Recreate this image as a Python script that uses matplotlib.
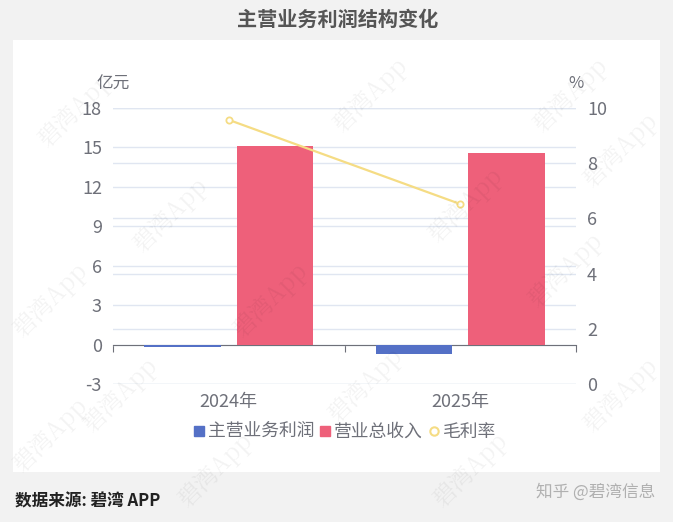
import numpy as np
import matplotlib
matplotlib.use("Agg")
import matplotlib.pyplot as plt
from matplotlib.patches import Rectangle
from matplotlib.lines import Line2D

plt.rcParams['font.family'] = ['Noto Sans CJK SC', 'DejaVu Sans']

# data
years = ["2024年", "2025年"]
profit = [-0.15, -0.68]        # 主营业务利润, 亿元
revenue = [15.1, 14.6]         # 营业总收入, 亿元
margin = [9.57, 6.52]          # 毛利率, %
left_ticks = [-3, 0, 3, 6, 9, 12, 15, 18]
right_ticks = [0, 2, 4, 6, 8, 10]

blue = "#5470c6"
red = "#ee607a"
yellow = "#f5dc84"
grid_c = "#e0e6f1"
txt_c = "#6e7079"

W, H = 673, 522
fig = plt.figure(figsize=(W / 100, H / 100), dpi=100)
fig.patch.set_facecolor("#f2f2f2")

# white panel behind the chart
fig.patches.append(Rectangle((13 / W, 1 - 472 / H), 647 / W, 432 / H,
                             transform=fig.transFigure, facecolor="white",
                             edgecolor="none", zorder=0))

# watermarks
wm = [(75, 110), (370, 95), (570, 95), (170, 215), (465, 205), (620, 150),
      (50, 300), (270, 300), (565, 270), (120, 395), (365, 385), (620, 395),
      (50, 435), (215, 470), (470, 470)]
for x, y in wm:
    fig.text(x / W, 1 - y / H, "碧湾App", rotation=45, fontsize=17,
             color="#000000", alpha=0.05, ha="center", va="center",
             family=["Noto Serif CJK SC", "Noto Sans CJK SC"], zorder=50)

ax_pos = [113 / W, 1 - 384 / H, (576 - 113) / W, (384 - 108) / H]
axr = fig.add_axes(ax_pos)
ax = fig.add_axes(ax_pos, sharex=axr)
axl = fig.add_axes(ax_pos, sharex=axr)
for a in (axr, ax, axl):
    a.patch.set_visible(False)
    for s in a.spines.values():
        s.set_visible(False)
axr.set_zorder(1)
ax.set_zorder(2)
axl.set_zorder(3)

x = np.arange(len(years))
w = 0.33
ax.bar(x - 0.2, profit, w, color=blue, zorder=3)
ax.bar(x + 0.2, revenue, w, color=red, zorder=3)
ax.set_ylim(-3, 18)
ax.set_xlim(-0.5, 1.5)
ax.set_yticks(left_ticks)
ax.set_yticklabels([str(t) for t in left_ticks])
ax.tick_params(axis="y", length=0, pad=8, labelsize=13, labelcolor=txt_c)
ax.yaxis.grid(True, color=grid_c, linewidth=1, zorder=0)
ax.set_axisbelow(True)

# x axis line at zero with boundary ticks
ax.spines["bottom"].set_visible(True)
ax.spines["bottom"].set_position(("data", 0))
ax.spines["bottom"].set_color(txt_c)
ax.set_xticks([-0.5, 0.5, 1.5])
ax.set_xticklabels([])
ax.tick_params(axis="x", direction="out", length=5, color=txt_c)
for i, lab in enumerate(years):
    ax.text(x[i], -0.065, lab, transform=ax.get_xaxis_transform(),
            ha="center", va="center", fontsize=13, color=txt_c)

# right axis
axr.set_ylim(0, 10)
axr.set_yticks(right_ticks)
axr.yaxis.tick_right()
axr.tick_params(axis="y", length=0, pad=8, labelsize=13, labelcolor=txt_c)
axr.tick_params(axis="x", length=0, labelbottom=False)
axr.yaxis.grid(True, color=grid_c, linewidth=1)

# margin line on top
axl.set_ylim(0, 10)
axl.axis("off")
axl.plot(x, margin, color=yellow, linewidth=1.6, marker="o", markersize=4.5,
         markerfacecolor="white", markeredgecolor=yellow, markeredgewidth=1.3)

# unit labels
fig.text(113 / W, 1 - 84 / H, "亿元", ha="center", va="center",
         fontsize=12, color=txt_c)
fig.text(576 / W, 1 - 84 / H, "%", ha="center", va="center",
         fontsize=12, color=txt_c)

# legend
handles = [
    Line2D([], [], linestyle="none", marker="s", markersize=7, color=blue),
    Line2D([], [], linestyle="none", marker="s", markersize=7, color=red),
    Line2D([], [], linestyle="none", marker="o", markersize=6,
           markerfacecolor="white", markeredgecolor=yellow, markeredgewidth=1.5),
]
fig.legend(handles, ["主营业务利润", "营业总收入", "毛利率"], ncol=3,
           loc="center", bbox_to_anchor=(345 / W, 1 - 432 / H), frameon=False,
           fontsize=12.8, labelcolor=txt_c, handlelength=0.6, handletextpad=0.2,
           columnspacing=0.3)

# title and footer
fig.text(338 / W, 1 - 19 / H, "主营业务利润结构变化", ha="center", va="center",
         fontsize=14.5, fontweight="bold", color="#555555")
fig.text(15 / W, 1 - 501 / H, "数据来源: 碧湾 APP", ha="left", va="center",
         fontsize=12, fontweight="bold", color="#222222")
fig.text(655 / W, 1 - 492 / H, "知乎 @碧湾信息", ha="right", va="center",
         fontsize=12, color="#b0b0b0")

fig.savefig("out.png", dpi=100)
